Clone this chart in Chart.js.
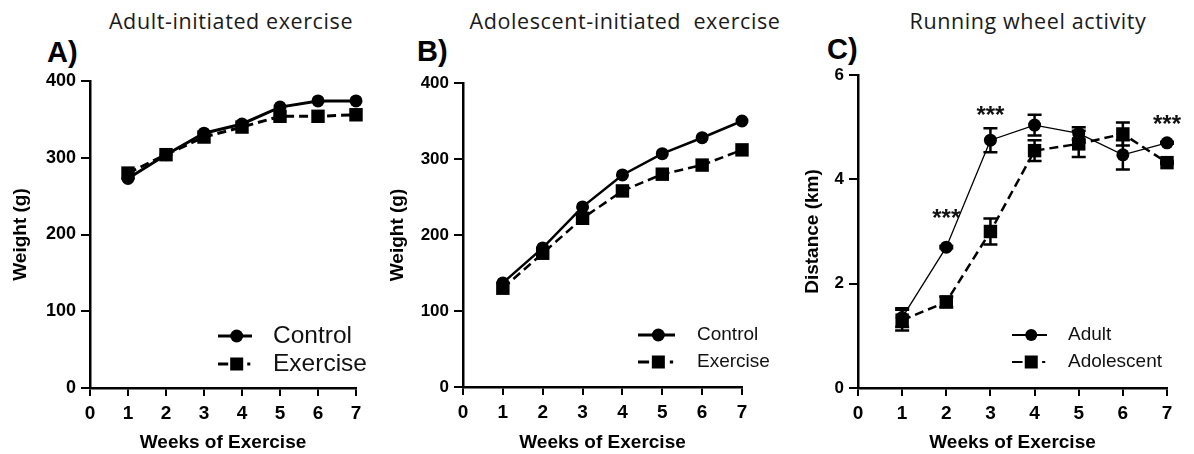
<!DOCTYPE html>
<html>
<head>
<meta charset="utf-8">
<script src="https://cdn.jsdelivr.net/npm/chart.js@4.4.1/dist/chart.umd.min.js"></script>
<style>
body { margin:0; background:#fff; width:1194px; height:454px; position:relative; overflow:hidden; }
canvas { position:absolute; top:0; }
.title { position:absolute; top:10px; font-family:"Open Sans", sans-serif; font-size:21.5px; letter-spacing:0.6px; line-height:1; color:#1a1a1a; white-space:nowrap; transform:translateX(-50%); }
.letter { position:absolute; font-family:"Liberation Sans", Arial, sans-serif; font-weight:bold; font-size:29px; line-height:1; color:#000; }
</style>
</head>
<body>
<div class="title" style="left:231px">Adult-initiated exercise</div>
<div class="title" style="left:625px">Adolescent-initiated&nbsp; exercise</div>
<div class="title" style="left:1028px">Running wheel activity</div>
<div class="letter" style="left:47px; top:38px">A)</div>
<div class="letter" style="left:417px; top:37px">B)</div>
<div class="letter" style="left:827px; top:35px">C)</div>
<canvas id="chartA" width="398" height="454" style="left:0px"></canvas>
<canvas id="chartB" width="400" height="454" style="left:380px"></canvas>
<canvas id="chartC" width="404" height="454" style="left:790px"></canvas>
<script>
const FONT = '"Liberation Sans", Arial, sans-serif';

const weeks = [1, 2, 3, 4, 5, 6, 7];
// body weight (g)
const adultControl = [273, 304, 332, 344, 366, 374, 374];
const adultExercise = [280, 304, 327, 340, 354, 354, 356];
const adolControl = [137, 183, 237, 279, 307, 328, 350];
const adolExercise = [130, 176, 222, 258, 280, 292, 312];
// running wheel distance (km) and SEM
const wheelAdult = [1.35, 2.7, 4.75, 5.04, 4.88, 4.47, 4.7];
const wheelAdultErr = [0.18, 0.02, 0.23, 0.2, 0.12, 0.28, 0.02];
const wheelAdol = [1.3, 1.65, 3.0, 4.55, 4.68, 4.87, 4.32];
const wheelAdolErr = [0.2, 0.1, 0.25, 0.2, 0.25, 0.22, 0.02];
// significance marks
const starWeeks = [2, 3, 7];
const starHeights = [3.35, 5.33, 5.16];

function toPoints(vals) {
    return weeks.map((w, i) => ({x: w, y: vals[i]}));
}

const errBars = {
    id: 'errBars',
    beforeDatasetsDraw(chart, args, o) {
        if (!o || !o.sets) return;
        let ctx = chart.ctx, xs = chart.scales.x, ys = chart.scales.y;
        ctx.save();
        ctx.strokeStyle = '#000';
        ctx.lineWidth = o.width;
        o.sets.forEach((errs, i) => {
            chart.data.datasets[i].data.forEach((p, j) => {
                let x = xs.getPixelForValue(p.x);
                let top = ys.getPixelForValue(p.y + errs[j]);
                let bot = ys.getPixelForValue(p.y - errs[j]);
                ctx.beginPath();
                ctx.moveTo(x, top); ctx.lineTo(x, bot);
                ctx.moveTo(x - o.cap, top); ctx.lineTo(x + o.cap, top);
                ctx.moveTo(x - o.cap, bot); ctx.lineTo(x + o.cap, bot);
                ctx.stroke();
            });
        });
        ctx.restore();
    }
};

const stars = {
    id: 'stars',
    afterDatasetsDraw(chart, args, o) {
        if (!o || !o.weeks) return;
        let ctx = chart.ctx, xs = chart.scales.x, ys = chart.scales.y;
        ctx.save();
        ctx.fillStyle = '#111';
        ctx.font = 'bold 24px ' + FONT;
        ctx.textAlign = 'center';
        ctx.textBaseline = 'alphabetic';
        o.weeks.forEach((w, i) => {
            ctx.fillText('***', xs.getPixelForValue(w), ys.getPixelForValue(o.heights[i]) + 13);
        });
        ctx.restore();
    }
};

const symLegend = {
    id: 'symLegend',
    afterDraw(chart, args, o) {
        if (!o || !o.rows) return;
        let ctx = chart.ctx;
        ctx.save();
        chart.data.datasets.forEach((ds, i) => {
            let y = o.rows[i], x0 = o.x, L = o.len;
            ctx.strokeStyle = '#000';
            ctx.fillStyle = '#000';
            ctx.lineWidth = o.lineWidth;
            ctx.beginPath();
            if (ds.borderDash && ds.borderDash.length) {
                ctx.moveTo(x0, y); ctx.lineTo(x0 + L * 0.3, y);
                ctx.moveTo(x0 + L * 0.86, y); ctx.lineTo(x0 + L * 0.95, y);
            } else {
                ctx.moveTo(x0, y); ctx.lineTo(x0 + L, y);
            }
            ctx.stroke();
            let mx = x0 + L * 0.55;
            if (ds.pointStyle === 'rect') {
                ctx.fillRect(mx - o.square / 2, y - o.square / 2, o.square, o.square);
            } else {
                ctx.beginPath();
                ctx.arc(mx, y, o.dot, 0, Math.PI * 2);
                ctx.fill();
            }
            ctx.fillStyle = '#111';
            ctx.font = o.font;
            ctx.textBaseline = 'middle';
            ctx.textAlign = 'left';
            ctx.fillText(ds.label, x0 + L + o.gap, y);
        });
        ctx.restore();
    }
};

function axisX(height) {
    return {
        type: 'linear', min: 0, max: 7,
        afterFit: s => { s.height = height; },
        ticks: {stepSize: 1, color: '#000', padding: 6, maxRotation: 0, autoSkip: false,
            font: {family: FONT, size: 19, weight: 'bold'}},
        grid: {drawOnChartArea: false, drawTicks: true, tickLength: 8, color: '#000', lineWidth: 2},
        border: {display: true, color: '#000', width: 2.5},
        title: {display: true, text: 'Weeks of Exercise', color: '#000', padding: {top: 0, bottom: 0},
            font: {family: FONT, size: 19, weight: 'bold'}}
    };
}

function axisY(width, max, step, title, titlePad, tickSize) {
    return {
        type: 'linear', min: 0, max: max,
        afterFit: s => { s.width = width; },
        ticks: {stepSize: step, color: '#000', padding: 5,
            font: {family: FONT, size: tickSize, weight: 'bold'}},
        grid: {drawOnChartArea: false, drawTicks: true, tickLength: 9, color: '#000', lineWidth: 2},
        border: {display: true, color: '#000', width: 2.5},
        title: {display: true, text: title, color: '#000', padding: {top: titlePad, bottom: 0},
            font: {family: FONT, size: 19, weight: 'bold'}}
    };
}

function lineSet(label, vals, dashed, width) {
    return {
        label: label,
        data: toPoints(vals),
        borderColor: '#000',
        backgroundColor: '#000',
        borderWidth: width,
        borderDash: dashed ? [9, 5] : [],
        pointStyle: dashed ? 'rect' : 'circle',
        pointRadius: dashed ? 9.5 : 6.5,
        pointBorderWidth: 0,
        pointBackgroundColor: '#000',
        tension: 0,
        clip: false
    };
}

function createPanel(id, datasets, pad, xHeight, yAxis, legend, extra) {
    let plugins = {legend: {display: false}, tooltip: {enabled: false}, symLegend: legend};
    Object.assign(plugins, extra || {});
    new Chart(document.getElementById(id), {
        type: 'line',
        data: {datasets: datasets},
        options: {
            responsive: false,
            animation: false,
            devicePixelRatio: 1,
            layout: {padding: pad},
            scales: {x: axisX(xHeight), y: yAxis},
            plugins: plugins
        },
        plugins: [errBars, stars, symLegend]
    });
}

createPanel('chartA',
    [lineSet('Control', adultControl, false, 3), lineSet('Exercise', adultExercise, true, 3)],
    {top: 81, right: 42, bottom: 0, left: 0}, 66,
    axisY(90, 400, 100, 'Weight (g)', 9, 18),
    {x: 218, len: 34, gap: 21, rows: [336, 364], lineWidth: 3, dot: 6.5, square: 13, font: '24.5px ' + FONT});

createPanel('chartB',
    [lineSet('Control', adolControl, false, 2.5), lineSet('Exercise', adolExercise, true, 2.5)],
    {top: 83, right: 38, bottom: 0, left: 0}, 67,
    axisY(83, 400, 100, 'Weight (g)', 6, 17),
    {x: 258, len: 37, gap: 22, rows: [335, 362], lineWidth: 3, dot: 6.5, square: 13, font: '19px ' + FONT});

createPanel('chartC',
    [lineSet('Adult', wheelAdult, false, 1.3), lineSet('Adolescent', wheelAdol, true, 2.5)],
    {top: 75, right: 27, bottom: 0, left: 0}, 66,
    axisY(68, 6, 2, 'Distance (km)', 11, 17),
    {x: 222, len: 35, gap: 21, rows: [335, 362], lineWidth: 2, dot: 6, square: 13, font: '19px ' + FONT},
    {errBars: {sets: [wheelAdultErr, wheelAdolErr], width: 2.5, cap: 7},
     stars: {weeks: starWeeks, heights: starHeights}});
</script>
</body>
</html>
